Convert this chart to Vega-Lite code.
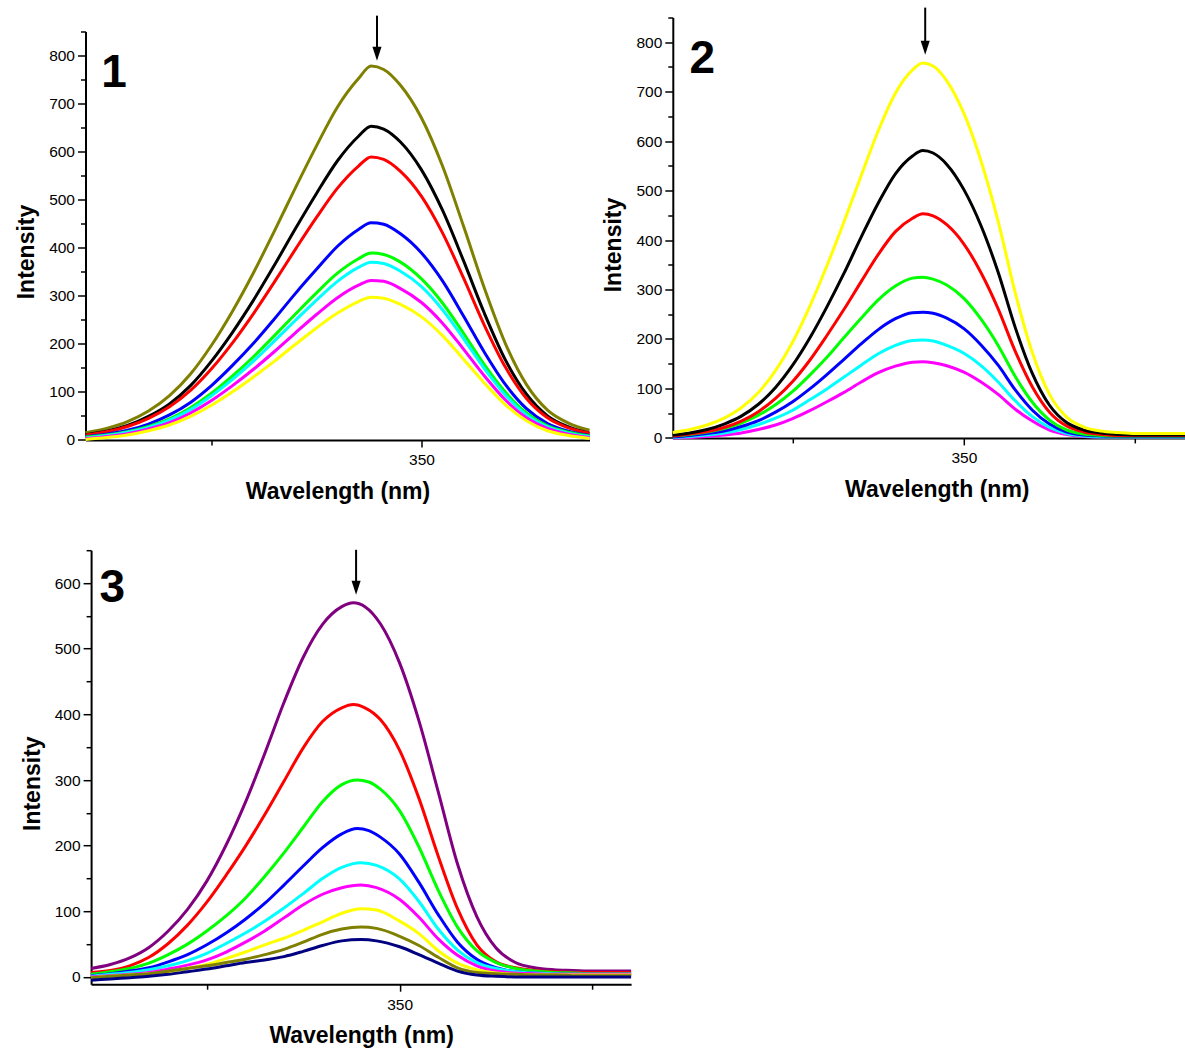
{
  "$schema": "https://vega.github.io/schema/vega-lite/v6.json",
  "usermeta": {"embedOptions": {"actions": false}},
  "background": "white",
  "padding": {"left": 15.5, "top": 6.5, "right": 0, "bottom": 0},
  "config": {
    "view": {"stroke": null},
    "font": "Liberation Sans",
    "axis": {
      "domainColor": "black", "domainWidth": 2, "tickColor": "black", "tickWidth": 1.5,
      "labelColor": "black", "labelFont": "Liberation Sans", "labelFontSize": 15.5,
      "titleColor": "black", "titleFont": "Liberation Sans", "titleFontSize": 23, "titleFontWeight": "bold",
      "grid": false, "labelOverlap": false, "labelFlush": false
    }
  },
  "datasets": {
    "p1": [
      {"c":"olive","x":270,"y":15},{"c":"olive","x":275,"y":24},{"c":"olive","x":280,"y":38},{"c":"olive","x":285,"y":60},{"c":"olive","x":290,"y":92},{"c":"olive","x":295,"y":137},{"c":"olive","x":300,"y":197},{"c":"olive","x":305,"y":268},{"c":"olive","x":310,"y":348},{"c":"olive","x":315,"y":435},{"c":"olive","x":320,"y":525},{"c":"olive","x":325,"y":612},{"c":"olive","x":330,"y":693},{"c":"olive","x":335,"y":752},{"c":"olive","x":338,"y":778},{"c":"olive","x":341,"y":771},{"c":"olive","x":345,"y":738},{"c":"olive","x":350,"y":670},{"c":"olive","x":355,"y":570},{"c":"olive","x":360,"y":445},{"c":"olive","x":365,"y":315},{"c":"olive","x":370,"y":200},{"c":"olive","x":375,"y":115},{"c":"olive","x":380,"y":62},{"c":"olive","x":385,"y":35},{"c":"olive","x":390,"y":20},
      {"c":"black","x":270,"y":11},{"c":"black","x":275,"y":18},{"c":"black","x":280,"y":30},{"c":"black","x":285,"y":49},{"c":"black","x":290,"y":75},{"c":"black","x":295,"y":113},{"c":"black","x":300,"y":164},{"c":"black","x":305,"y":224},{"c":"black","x":310,"y":291},{"c":"black","x":315,"y":364},{"c":"black","x":320,"y":440},{"c":"black","x":325,"y":513},{"c":"black","x":330,"y":581},{"c":"black","x":335,"y":632},{"c":"black","x":338,"y":653},{"c":"black","x":341,"y":647},{"c":"black","x":345,"y":620},{"c":"black","x":350,"y":562},{"c":"black","x":355,"y":478},{"c":"black","x":360,"y":373},{"c":"black","x":365,"y":263},{"c":"black","x":370,"y":166},{"c":"black","x":375,"y":95},{"c":"black","x":380,"y":50},{"c":"black","x":385,"y":27},{"c":"black","x":390,"y":14},
      {"c":"red","x":270,"y":10},{"c":"red","x":275,"y":17},{"c":"red","x":280,"y":28},{"c":"red","x":285,"y":45},{"c":"red","x":290,"y":69},{"c":"red","x":295,"y":103},{"c":"red","x":300,"y":148},{"c":"red","x":305,"y":202},{"c":"red","x":310,"y":263},{"c":"red","x":315,"y":329},{"c":"red","x":320,"y":397},{"c":"red","x":325,"y":463},{"c":"red","x":330,"y":524},{"c":"red","x":335,"y":570},{"c":"red","x":338,"y":589},{"c":"red","x":341,"y":584},{"c":"red","x":345,"y":559},{"c":"red","x":350,"y":507},{"c":"red","x":355,"y":431},{"c":"red","x":360,"y":337},{"c":"red","x":365,"y":238},{"c":"red","x":370,"y":151},{"c":"red","x":375,"y":86},{"c":"red","x":380,"y":46},{"c":"red","x":385,"y":25},{"c":"red","x":390,"y":14},
      {"c":"blue","x":270,"y":7},{"c":"blue","x":275,"y":12},{"c":"blue","x":280,"y":20},{"c":"blue","x":285,"y":33},{"c":"blue","x":290,"y":52},{"c":"blue","x":295,"y":78},{"c":"blue","x":300,"y":113},{"c":"blue","x":305,"y":155},{"c":"blue","x":310,"y":201},{"c":"blue","x":315,"y":252},{"c":"blue","x":320,"y":305},{"c":"blue","x":325,"y":355},{"c":"blue","x":330,"y":403},{"c":"blue","x":335,"y":438},{"c":"blue","x":338,"y":452},{"c":"blue","x":341,"y":449},{"c":"blue","x":345,"y":429},{"c":"blue","x":350,"y":389},{"c":"blue","x":355,"y":331},{"c":"blue","x":360,"y":258},{"c":"blue","x":365,"y":182},{"c":"blue","x":370,"y":115},{"c":"blue","x":375,"y":65},{"c":"blue","x":380,"y":34},{"c":"blue","x":385,"y":18},{"c":"blue","x":390,"y":9},
      {"c":"green","x":270,"y":6},{"c":"green","x":275,"y":10},{"c":"green","x":280,"y":17},{"c":"green","x":285,"y":28},{"c":"green","x":290,"y":44},{"c":"green","x":295,"y":67},{"c":"green","x":300,"y":97},{"c":"green","x":305,"y":133},{"c":"green","x":310,"y":173},{"c":"green","x":315,"y":217},{"c":"green","x":320,"y":262},{"c":"green","x":325,"y":306},{"c":"green","x":330,"y":347},{"c":"green","x":335,"y":377},{"c":"green","x":338,"y":389},{"c":"green","x":341,"y":386},{"c":"green","x":345,"y":370},{"c":"green","x":350,"y":335},{"c":"green","x":355,"y":285},{"c":"green","x":360,"y":222},{"c":"green","x":365,"y":156},{"c":"green","x":370,"y":99},{"c":"green","x":375,"y":56},{"c":"green","x":380,"y":29},{"c":"green","x":385,"y":16},{"c":"green","x":390,"y":8},
      {"c":"cyan","x":270,"y":4},{"c":"cyan","x":275,"y":9},{"c":"cyan","x":280,"y":16},{"c":"cyan","x":285,"y":26},{"c":"cyan","x":290,"y":41},{"c":"cyan","x":295,"y":63},{"c":"cyan","x":300,"y":92},{"c":"cyan","x":305,"y":126},{"c":"cyan","x":310,"y":164},{"c":"cyan","x":315,"y":206},{"c":"cyan","x":320,"y":249},{"c":"cyan","x":325,"y":291},{"c":"cyan","x":330,"y":330},{"c":"cyan","x":335,"y":359},{"c":"cyan","x":338,"y":370},{"c":"cyan","x":341,"y":367},{"c":"cyan","x":345,"y":351},{"c":"cyan","x":350,"y":319},{"c":"cyan","x":355,"y":271},{"c":"cyan","x":360,"y":211},{"c":"cyan","x":365,"y":148},{"c":"cyan","x":370,"y":93},{"c":"cyan","x":375,"y":52},{"c":"cyan","x":380,"y":27},{"c":"cyan","x":385,"y":14},{"c":"cyan","x":390,"y":7},
      {"c":"magenta","x":270,"y":3},{"c":"magenta","x":275,"y":7},{"c":"magenta","x":280,"y":13},{"c":"magenta","x":285,"y":23},{"c":"magenta","x":290,"y":36},{"c":"magenta","x":295,"y":56},{"c":"magenta","x":300,"y":82},{"c":"magenta","x":305,"y":113},{"c":"magenta","x":310,"y":147},{"c":"magenta","x":315,"y":184},{"c":"magenta","x":320,"y":223},{"c":"magenta","x":325,"y":261},{"c":"magenta","x":330,"y":296},{"c":"magenta","x":335,"y":322},{"c":"magenta","x":338,"y":332},{"c":"magenta","x":341,"y":330},{"c":"magenta","x":345,"y":315},{"c":"magenta","x":350,"y":286},{"c":"magenta","x":355,"y":243},{"c":"magenta","x":360,"y":189},{"c":"magenta","x":365,"y":133},{"c":"magenta","x":370,"y":83},{"c":"magenta","x":375,"y":46},{"c":"magenta","x":380,"y":24},{"c":"magenta","x":385,"y":12},{"c":"magenta","x":390,"y":5},
      {"c":"yellow","x":270,"y":1},{"c":"yellow","x":275,"y":5},{"c":"yellow","x":280,"y":10},{"c":"yellow","x":285,"y":19},{"c":"yellow","x":290,"y":31},{"c":"yellow","x":295,"y":49},{"c":"yellow","x":300,"y":72},{"c":"yellow","x":305,"y":100},{"c":"yellow","x":310,"y":131},{"c":"yellow","x":315,"y":164},{"c":"yellow","x":320,"y":199},{"c":"yellow","x":325,"y":233},{"c":"yellow","x":330,"y":264},{"c":"yellow","x":335,"y":288},{"c":"yellow","x":338,"y":297},{"c":"yellow","x":341,"y":295},{"c":"yellow","x":345,"y":282},{"c":"yellow","x":350,"y":256},{"c":"yellow","x":355,"y":217},{"c":"yellow","x":360,"y":168},{"c":"yellow","x":365,"y":118},{"c":"yellow","x":370,"y":73},{"c":"yellow","x":375,"y":40},{"c":"yellow","x":380,"y":19},{"c":"yellow","x":385,"y":9},{"c":"yellow","x":390,"y":3}
    ],
    "p2": [
      {"c":"magenta","x":265,"y":0},{"c":"magenta","x":270,"y":1},{"c":"magenta","x":275,"y":3},{"c":"magenta","x":280,"y":6},{"c":"magenta","x":285,"y":10},{"c":"magenta","x":290,"y":17},{"c":"magenta","x":295,"y":26},{"c":"magenta","x":300,"y":39},{"c":"magenta","x":305,"y":55},{"c":"magenta","x":310,"y":73},{"c":"magenta","x":315,"y":92},{"c":"magenta","x":320,"y":113},{"c":"magenta","x":325,"y":132},{"c":"magenta","x":330,"y":145},{"c":"magenta","x":335,"y":153},{"c":"magenta","x":338,"y":154},{"c":"magenta","x":341,"y":152},{"c":"magenta","x":345,"y":146},{"c":"magenta","x":350,"y":133},{"c":"magenta","x":355,"y":113},{"c":"magenta","x":360,"y":88},{"c":"magenta","x":365,"y":58},{"c":"magenta","x":370,"y":34},{"c":"magenta","x":375,"y":16},{"c":"magenta","x":380,"y":7},{"c":"magenta","x":385,"y":3},{"c":"magenta","x":390,"y":2},{"c":"magenta","x":395,"y":2},{"c":"magenta","x":400,"y":2},{"c":"magenta","x":405,"y":2},{"c":"magenta","x":410,"y":2},{"c":"magenta","x":415,"y":2},
      {"c":"cyan","x":265,"y":1},{"c":"cyan","x":270,"y":3},{"c":"cyan","x":275,"y":6},{"c":"cyan","x":280,"y":10},{"c":"cyan","x":285,"y":17},{"c":"cyan","x":290,"y":27},{"c":"cyan","x":295,"y":40},{"c":"cyan","x":300,"y":56},{"c":"cyan","x":305,"y":77},{"c":"cyan","x":310,"y":99},{"c":"cyan","x":315,"y":123},{"c":"cyan","x":320,"y":147},{"c":"cyan","x":325,"y":170},{"c":"cyan","x":330,"y":187},{"c":"cyan","x":335,"y":197},{"c":"cyan","x":338,"y":198},{"c":"cyan","x":341,"y":196},{"c":"cyan","x":345,"y":187},{"c":"cyan","x":350,"y":171},{"c":"cyan","x":355,"y":146},{"c":"cyan","x":360,"y":113},{"c":"cyan","x":365,"y":75},{"c":"cyan","x":370,"y":43},{"c":"cyan","x":375,"y":21},{"c":"cyan","x":380,"y":9},{"c":"cyan","x":385,"y":4},{"c":"cyan","x":390,"y":2},{"c":"cyan","x":395,"y":2},{"c":"cyan","x":400,"y":2},{"c":"cyan","x":405,"y":2},{"c":"cyan","x":410,"y":2},{"c":"cyan","x":415,"y":2},
      {"c":"blue","x":265,"y":2},{"c":"blue","x":270,"y":5},{"c":"blue","x":275,"y":9},{"c":"blue","x":280,"y":14},{"c":"blue","x":285,"y":23},{"c":"blue","x":290,"y":35},{"c":"blue","x":295,"y":52},{"c":"blue","x":300,"y":73},{"c":"blue","x":305,"y":99},{"c":"blue","x":310,"y":128},{"c":"blue","x":315,"y":159},{"c":"blue","x":320,"y":190},{"c":"blue","x":325,"y":219},{"c":"blue","x":330,"y":241},{"c":"blue","x":335,"y":253},{"c":"blue","x":338,"y":254},{"c":"blue","x":341,"y":252},{"c":"blue","x":345,"y":242},{"c":"blue","x":350,"y":221},{"c":"blue","x":355,"y":188},{"c":"blue","x":360,"y":147},{"c":"blue","x":365,"y":97},{"c":"blue","x":370,"y":56},{"c":"blue","x":375,"y":28},{"c":"blue","x":380,"y":12},{"c":"blue","x":385,"y":6},{"c":"blue","x":390,"y":4},{"c":"blue","x":395,"y":3},{"c":"blue","x":400,"y":3},{"c":"blue","x":405,"y":3},{"c":"blue","x":410,"y":3},{"c":"blue","x":415,"y":3},
      {"c":"green","x":265,"y":4},{"c":"green","x":270,"y":7},{"c":"green","x":275,"y":12},{"c":"green","x":280,"y":19},{"c":"green","x":285,"y":30},{"c":"green","x":290,"y":46},{"c":"green","x":295,"y":67},{"c":"green","x":300,"y":94},{"c":"green","x":305,"y":127},{"c":"green","x":310,"y":163},{"c":"green","x":315,"y":203},{"c":"green","x":320,"y":242},{"c":"green","x":325,"y":279},{"c":"green","x":330,"y":307},{"c":"green","x":335,"y":323},{"c":"green","x":338,"y":325},{"c":"green","x":341,"y":321},{"c":"green","x":345,"y":309},{"c":"green","x":350,"y":282},{"c":"green","x":355,"y":240},{"c":"green","x":360,"y":187},{"c":"green","x":365,"y":124},{"c":"green","x":370,"y":72},{"c":"green","x":375,"y":36},{"c":"green","x":380,"y":16},{"c":"green","x":385,"y":8},{"c":"green","x":390,"y":5},{"c":"green","x":395,"y":4},{"c":"green","x":400,"y":4},{"c":"green","x":405,"y":4},{"c":"green","x":410,"y":4},{"c":"green","x":415,"y":4},
      {"c":"red","x":265,"y":4},{"c":"red","x":270,"y":8},{"c":"red","x":275,"y":13},{"c":"red","x":280,"y":21},{"c":"red","x":285,"y":34},{"c":"red","x":290,"y":53},{"c":"red","x":295,"y":80},{"c":"red","x":300,"y":114},{"c":"red","x":305,"y":157},{"c":"red","x":310,"y":207},{"c":"red","x":315,"y":260},{"c":"red","x":320,"y":316},{"c":"red","x":325,"y":371},{"c":"red","x":330,"y":417},{"c":"red","x":335,"y":444},{"c":"red","x":338,"y":453},{"c":"red","x":341,"y":449},{"c":"red","x":345,"y":431},{"c":"red","x":350,"y":392},{"c":"red","x":355,"y":334},{"c":"red","x":360,"y":261},{"c":"red","x":365,"y":175},{"c":"red","x":370,"y":103},{"c":"red","x":375,"y":52},{"c":"red","x":380,"y":24},{"c":"red","x":385,"y":12},{"c":"red","x":390,"y":7},{"c":"red","x":395,"y":5},{"c":"red","x":400,"y":5},{"c":"red","x":405,"y":5},{"c":"red","x":410,"y":5},{"c":"red","x":415,"y":5},
      {"c":"black","x":265,"y":6},{"c":"black","x":270,"y":10},{"c":"black","x":275,"y":17},{"c":"black","x":280,"y":28},{"c":"black","x":285,"y":44},{"c":"black","x":290,"y":68},{"c":"black","x":295,"y":102},{"c":"black","x":300,"y":147},{"c":"black","x":305,"y":202},{"c":"black","x":310,"y":265},{"c":"black","x":315,"y":333},{"c":"black","x":320,"y":406},{"c":"black","x":325,"y":475},{"c":"black","x":330,"y":534},{"c":"black","x":335,"y":570},{"c":"black","x":338,"y":581},{"c":"black","x":341,"y":576},{"c":"black","x":345,"y":553},{"c":"black","x":350,"y":502},{"c":"black","x":355,"y":429},{"c":"black","x":360,"y":335},{"c":"black","x":365,"y":223},{"c":"black","x":370,"y":130},{"c":"black","x":375,"y":66},{"c":"black","x":380,"y":31},{"c":"black","x":385,"y":16},{"c":"black","x":390,"y":10},{"c":"black","x":395,"y":7},{"c":"black","x":400,"y":6},{"c":"black","x":405,"y":6},{"c":"black","x":410,"y":6},{"c":"black","x":415,"y":6},
      {"c":"yellow","x":265,"y":11},{"c":"yellow","x":270,"y":17},{"c":"yellow","x":275,"y":26},{"c":"yellow","x":280,"y":40},{"c":"yellow","x":285,"y":61},{"c":"yellow","x":290,"y":92},{"c":"yellow","x":295,"y":136},{"c":"yellow","x":300,"y":194},{"c":"yellow","x":305,"y":266},{"c":"yellow","x":310,"y":348},{"c":"yellow","x":315,"y":437},{"c":"yellow","x":320,"y":530},{"c":"yellow","x":325,"y":621},{"c":"yellow","x":330,"y":697},{"c":"yellow","x":335,"y":744},{"c":"yellow","x":338,"y":758},{"c":"yellow","x":341,"y":752},{"c":"yellow","x":345,"y":722},{"c":"yellow","x":350,"y":656},{"c":"yellow","x":355,"y":560},{"c":"yellow","x":360,"y":438},{"c":"yellow","x":365,"y":293},{"c":"yellow","x":370,"y":172},{"c":"yellow","x":375,"y":88},{"c":"yellow","x":380,"y":42},{"c":"yellow","x":385,"y":22},{"c":"yellow","x":390,"y":14},{"c":"yellow","x":395,"y":11},{"c":"yellow","x":400,"y":9},{"c":"yellow","x":405,"y":9},{"c":"yellow","x":410,"y":9},{"c":"yellow","x":415,"y":9}
    ],
    "p3": [
      {"c":"purple","x":270,"y":13},{"c":"purple","x":275,"y":19},{"c":"purple","x":280,"y":29},{"c":"purple","x":285,"y":45},{"c":"purple","x":290,"y":70},{"c":"purple","x":295,"y":103},{"c":"purple","x":300,"y":146},{"c":"purple","x":305,"y":201},{"c":"purple","x":310,"y":266},{"c":"purple","x":315,"y":340},{"c":"purple","x":320,"y":418},{"c":"purple","x":325,"y":487},{"c":"purple","x":330,"y":537},{"c":"purple","x":335,"y":564},{"c":"purple","x":338,"y":570},{"c":"purple","x":341,"y":564},{"c":"purple","x":345,"y":538},{"c":"purple","x":350,"y":478},{"c":"purple","x":355,"y":390},{"c":"purple","x":360,"y":282},{"c":"purple","x":365,"y":172},{"c":"purple","x":370,"y":92},{"c":"purple","x":375,"y":44},{"c":"purple","x":380,"y":22},{"c":"purple","x":385,"y":14},{"c":"purple","x":390,"y":11},{"c":"purple","x":395,"y":10},{"c":"purple","x":400,"y":9},{"c":"purple","x":405,"y":9},{"c":"purple","x":410,"y":9},
      {"c":"red","x":270,"y":7},{"c":"red","x":275,"y":10},{"c":"red","x":280,"y":17},{"c":"red","x":285,"y":30},{"c":"red","x":290,"y":51},{"c":"red","x":295,"y":79},{"c":"red","x":300,"y":114},{"c":"red","x":305,"y":155},{"c":"red","x":310,"y":199},{"c":"red","x":315,"y":247},{"c":"red","x":320,"y":298},{"c":"red","x":325,"y":349},{"c":"red","x":330,"y":389},{"c":"red","x":335,"y":410},{"c":"red","x":338,"y":415},{"c":"red","x":341,"y":410},{"c":"red","x":345,"y":392},{"c":"red","x":350,"y":345},{"c":"red","x":355,"y":272},{"c":"red","x":360,"y":184},{"c":"red","x":365,"y":104},{"c":"red","x":370,"y":49},{"c":"red","x":375,"y":23},{"c":"red","x":380,"y":14},{"c":"red","x":385,"y":10},{"c":"red","x":390,"y":8},{"c":"red","x":395,"y":7},{"c":"red","x":400,"y":7},{"c":"red","x":405,"y":7},{"c":"red","x":410,"y":7},
      {"c":"green","x":270,"y":4},{"c":"green","x":275,"y":8},{"c":"green","x":280,"y":13},{"c":"green","x":285,"y":21},{"c":"green","x":290,"y":34},{"c":"green","x":295,"y":50},{"c":"green","x":300,"y":70},{"c":"green","x":305,"y":93},{"c":"green","x":310,"y":120},{"c":"green","x":315,"y":153},{"c":"green","x":320,"y":189},{"c":"green","x":325,"y":228},{"c":"green","x":330,"y":267},{"c":"green","x":335,"y":293},{"c":"green","x":339,"y":300},{"c":"green","x":342,"y":297},{"c":"green","x":345,"y":286},{"c":"green","x":350,"y":253},{"c":"green","x":355,"y":198},{"c":"green","x":360,"y":132},{"c":"green","x":365,"y":76},{"c":"green","x":370,"y":40},{"c":"green","x":375,"y":22},{"c":"green","x":380,"y":13},{"c":"green","x":385,"y":9},{"c":"green","x":390,"y":7},{"c":"green","x":395,"y":6},{"c":"green","x":400,"y":5},{"c":"green","x":405,"y":5},{"c":"green","x":410,"y":5},
      {"c":"blue","x":270,"y":2},{"c":"blue","x":275,"y":5},{"c":"blue","x":280,"y":9},{"c":"blue","x":285,"y":14},{"c":"blue","x":290,"y":23},{"c":"blue","x":295,"y":34},{"c":"blue","x":300,"y":49},{"c":"blue","x":305,"y":67},{"c":"blue","x":310,"y":88},{"c":"blue","x":315,"y":112},{"c":"blue","x":320,"y":140},{"c":"blue","x":325,"y":169},{"c":"blue","x":330,"y":197},{"c":"blue","x":335,"y":218},{"c":"blue","x":339,"y":226},{"c":"blue","x":342,"y":223},{"c":"blue","x":345,"y":213},{"c":"blue","x":350,"y":187},{"c":"blue","x":355,"y":144},{"c":"blue","x":360,"y":95},{"c":"blue","x":365,"y":53},{"c":"blue","x":370,"y":27},{"c":"blue","x":375,"y":14},{"c":"blue","x":380,"y":8},{"c":"blue","x":385,"y":6},{"c":"blue","x":390,"y":5},{"c":"blue","x":395,"y":4},{"c":"blue","x":400,"y":4},{"c":"blue","x":405,"y":4},{"c":"blue","x":410,"y":4},
      {"c":"cyan","x":270,"y":1},{"c":"cyan","x":275,"y":4},{"c":"cyan","x":280,"y":7},{"c":"cyan","x":285,"y":11},{"c":"cyan","x":290,"y":17},{"c":"cyan","x":295,"y":25},{"c":"cyan","x":300,"y":36},{"c":"cyan","x":305,"y":51},{"c":"cyan","x":310,"y":67},{"c":"cyan","x":315,"y":85},{"c":"cyan","x":320,"y":105},{"c":"cyan","x":325,"y":127},{"c":"cyan","x":330,"y":150},{"c":"cyan","x":335,"y":167},{"c":"cyan","x":340,"y":174},{"c":"cyan","x":344,"y":170},{"c":"cyan","x":350,"y":149},{"c":"cyan","x":355,"y":115},{"c":"cyan","x":360,"y":73},{"c":"cyan","x":365,"y":41},{"c":"cyan","x":370,"y":22},{"c":"cyan","x":375,"y":13},{"c":"cyan","x":380,"y":8},{"c":"cyan","x":385,"y":6},{"c":"cyan","x":390,"y":5},{"c":"cyan","x":395,"y":4},{"c":"cyan","x":400,"y":4},{"c":"cyan","x":405,"y":4},{"c":"cyan","x":410,"y":4},
      {"c":"magenta","x":270,"y":0},{"c":"magenta","x":275,"y":2},{"c":"magenta","x":280,"y":4},{"c":"magenta","x":285,"y":7},{"c":"magenta","x":290,"y":12},{"c":"magenta","x":295,"y":18},{"c":"magenta","x":300,"y":26},{"c":"magenta","x":305,"y":38},{"c":"magenta","x":310,"y":53},{"c":"magenta","x":315,"y":70},{"c":"magenta","x":320,"y":90},{"c":"magenta","x":325,"y":110},{"c":"magenta","x":330,"y":126},{"c":"magenta","x":335,"y":136},{"c":"magenta","x":340,"y":140},{"c":"magenta","x":344,"y":136},{"c":"magenta","x":350,"y":118},{"c":"magenta","x":355,"y":91},{"c":"magenta","x":360,"y":58},{"c":"magenta","x":365,"y":33},{"c":"magenta","x":370,"y":17},{"c":"magenta","x":375,"y":9},{"c":"magenta","x":380,"y":6},{"c":"magenta","x":385,"y":5},{"c":"magenta","x":390,"y":4},{"c":"magenta","x":395,"y":4},{"c":"magenta","x":400,"y":4},{"c":"magenta","x":405,"y":4},{"c":"magenta","x":410,"y":4},
      {"c":"yellow","x":270,"y":-1},{"c":"yellow","x":275,"y":1},{"c":"yellow","x":280,"y":3},{"c":"yellow","x":285,"y":5},{"c":"yellow","x":290,"y":8},{"c":"yellow","x":295,"y":13},{"c":"yellow","x":300,"y":19},{"c":"yellow","x":305,"y":28},{"c":"yellow","x":310,"y":38},{"c":"yellow","x":315,"y":49},{"c":"yellow","x":320,"y":59},{"c":"yellow","x":325,"y":71},{"c":"yellow","x":330,"y":84},{"c":"yellow","x":335,"y":97},{"c":"yellow","x":340,"y":104},{"c":"yellow","x":344,"y":102},{"c":"yellow","x":350,"y":85},{"c":"yellow","x":355,"y":66},{"c":"yellow","x":360,"y":40},{"c":"yellow","x":365,"y":21},{"c":"yellow","x":370,"y":11},{"c":"yellow","x":375,"y":6},{"c":"yellow","x":380,"y":4},{"c":"yellow","x":385,"y":3},{"c":"yellow","x":390,"y":3},{"c":"yellow","x":395,"y":3},{"c":"yellow","x":400,"y":3},{"c":"yellow","x":405,"y":3},{"c":"yellow","x":410,"y":3},
      {"c":"olive","x":270,"y":-1},{"c":"olive","x":275,"y":1},{"c":"olive","x":280,"y":3},{"c":"olive","x":285,"y":5},{"c":"olive","x":290,"y":9},{"c":"olive","x":295,"y":13},{"c":"olive","x":300,"y":17},{"c":"olive","x":305,"y":22},{"c":"olive","x":310,"y":27},{"c":"olive","x":315,"y":34},{"c":"olive","x":320,"y":42},{"c":"olive","x":325,"y":53},{"c":"olive","x":330,"y":65},{"c":"olive","x":335,"y":73},{"c":"olive","x":340,"y":76},{"c":"olive","x":344,"y":74},{"c":"olive","x":350,"y":62},{"c":"olive","x":355,"y":48},{"c":"olive","x":360,"y":30},{"c":"olive","x":365,"y":14},{"c":"olive","x":370,"y":7},{"c":"olive","x":375,"y":5},{"c":"olive","x":380,"y":4},{"c":"olive","x":385,"y":3},{"c":"olive","x":390,"y":3},{"c":"olive","x":395,"y":2},{"c":"olive","x":400,"y":2},{"c":"olive","x":405,"y":2},{"c":"olive","x":410,"y":2},
      {"c":"navy","x":270,"y":-5},{"c":"navy","x":275,"y":-3},{"c":"navy","x":280,"y":-1},{"c":"navy","x":285,"y":1},{"c":"navy","x":290,"y":4},{"c":"navy","x":295,"y":8},{"c":"navy","x":300,"y":12},{"c":"navy","x":305,"y":17},{"c":"navy","x":310,"y":22},{"c":"navy","x":315,"y":26},{"c":"navy","x":320,"y":31},{"c":"navy","x":325,"y":39},{"c":"navy","x":330,"y":48},{"c":"navy","x":335,"y":55},{"c":"navy","x":340,"y":57},{"c":"navy","x":344,"y":55},{"c":"navy","x":350,"y":46},{"c":"navy","x":355,"y":34},{"c":"navy","x":360,"y":21},{"c":"navy","x":365,"y":9},{"c":"navy","x":370,"y":3},{"c":"navy","x":375,"y":1},{"c":"navy","x":380,"y":0},{"c":"navy","x":385,"y":0},{"c":"navy","x":390,"y":0},{"c":"navy","x":395,"y":0},{"c":"navy","x":400,"y":0},{"c":"navy","x":405,"y":0},{"c":"navy","x":410,"y":0}
    ],
    "ann": [
      {"p":1,"k":"rule","x":339.4,"y":883,"y2":803.5},
      {"p":1,"k":"head","x":339.4,"y":803.5},
      {"p":1,"k":"lab","x":276.8,"y":735,"t":"1"},
      {"p":2,"k":"rule","x":338.7,"y":870,"y2":789},
      {"p":2,"k":"head","x":338.7,"y":789},
      {"p":2,"k":"lab","x":273.6,"y":737,"t":"2"},
      {"p":3,"k":"rule","x":338.7,"y":650.6,"y2":592.7},
      {"p":3,"k":"head","x":338.7,"y":592.7},
      {"p":3,"k":"lab","x":275.5,"y":571,"t":"3"}
    ]
  },
  "hconcat": [
    {
      "vconcat": [
        {
          "vconcat": [
            {"width": 1, "height": 1, "data": {"values": [{}]}, "mark": {"type": "text"}, "encoding": {"text": {"value": ""}}},
            {
              "width": 504, "height": 408.4,
              "encoding": {
                "x": {"field": "x", "type": "quantitative", "scale": {"domain": [270, 390], "nice": false, "zero": false},
                  "axis": {"title": "Wavelength (nm)", "values": [300, 350], "labelExpr": "datum.value === 350 ? datum.label : ''",
                    "tickSize": {"condition": {"test": "datum.value === 350", "value": 7}, "value": 5}, "labelPadding": 6, "titlePadding": 12}},
                "y": {"field": "y", "type": "quantitative", "scale": {"domain": [0, 850], "nice": false, "zero": false},
                  "axis": {"title": "Intensity", "values": [0,50,100,150,200,250,300,350,400,450,500,550,600,650,700,750,800,850],
                    "labelExpr": "datum.value % 100 === 0 ? datum.label : ''",
                    "tickSize": {"condition": {"test": "datum.value % 100 === 0", "value": 8}, "value": 5},
                    "labelPadding": 3, "titlePadding": 10, "titleY": 220}}
              },
              "layer": [
                {"data": {"name": "p1"}, "mark": {"type": "line", "strokeWidth": 3, "interpolate": "monotone"},
                  "encoding": {"color": {"field": "c", "type": "nominal", "legend": null,
                    "scale": {"domain": ["olive","black","red","blue","green","cyan","magenta","yellow","purple","navy"],
                      "range": ["#808000","#000000","#ff0000","#0000ff","#00ff00","#00ffff","#ff00ff","#ffff00","#800080","#000080"]}}}},
                {"data": {"name": "ann"}, "transform": [{"filter": "datum.p === 1 && datum.k === 'rule'"}],
                  "mark": {"type": "rule", "color": "black", "strokeWidth": 2}, "encoding": {"y2": {"field": "y2"}}},
                {"data": {"name": "ann"}, "transform": [{"filter": "datum.p === 1 && datum.k === 'head'"}],
                  "mark": {"type": "point", "shape": "M-0.65,-1L0.65,-1L0,1Z", "size": 196, "filled": true, "color": "black", "opacity": 1, "strokeWidth": 0}},
                {"data": {"name": "ann"}, "transform": [{"filter": "datum.p === 1 && datum.k === 'lab'"}],
                  "mark": {"type": "text", "fontSize": 46, "fontWeight": "bold", "font": "Liberation Sans", "align": "center", "baseline": "alphabetic", "color": "black"},
                  "encoding": {"text": {"field": "t"}}}
              ]
            }
          ],
          "spacing": 13, "bounds": "flush"
        },
        {
          "hconcat": [
            {"width": 1, "height": 1, "data": {"values": [{}]}, "mark": {"type": "text"}, "encoding": {"text": {"value": ""}}},
            {
              "width": 540, "height": 434,
              "encoding": {
                "x": {"field": "x", "type": "quantitative", "scale": {"domain": [270, 410], "nice": false, "zero": false},
                  "axis": {"title": "Wavelength (nm)", "values": [300, 350, 400], "labelExpr": "datum.value === 350 ? datum.label : ''",
                    "tickSize": {"condition": {"test": "datum.value === 350", "value": 7}, "value": 5}, "labelPadding": 6, "titlePadding": 12}},
                "y": {"field": "y", "type": "quantitative", "scale": {"domain": [-11, 650], "nice": false, "zero": false},
                  "axis": {"title": "Intensity", "values": [0,50,100,150,200,250,300,350,400,450,500,550,600,650],
                    "labelExpr": "datum.value % 100 === 0 ? datum.label : ''",
                    "tickSize": {"condition": {"test": "datum.value % 100 === 0", "value": 8}, "value": 5},
                    "labelPadding": 3, "titlePadding": 10, "titleY": 233}}
              },
              "layer": [
                {"data": {"name": "p3"}, "mark": {"type": "line", "strokeWidth": 3, "interpolate": "monotone"},
                  "encoding": {"color": {"field": "c", "type": "nominal", "legend": null,
                    "scale": {"domain": ["olive","black","red","blue","green","cyan","magenta","yellow","purple","navy"],
                      "range": ["#808000","#000000","#ff0000","#0000ff","#00ff00","#00ffff","#ff00ff","#ffff00","#800080","#000080"]}}}},
                {"data": {"name": "ann"}, "transform": [{"filter": "datum.p === 3 && datum.k === 'rule'"}],
                  "mark": {"type": "rule", "color": "black", "strokeWidth": 2}, "encoding": {"y2": {"field": "y2"}}},
                {"data": {"name": "ann"}, "transform": [{"filter": "datum.p === 3 && datum.k === 'head'"}],
                  "mark": {"type": "point", "shape": "M-0.65,-1L0.65,-1L0,1Z", "size": 196, "filled": true, "color": "black", "opacity": 1, "strokeWidth": 0}},
                {"data": {"name": "ann"}, "transform": [{"filter": "datum.p === 3 && datum.k === 'lab'"}],
                  "mark": {"type": "text", "fontSize": 46, "fontWeight": "bold", "font": "Liberation Sans", "align": "center", "baseline": "alphabetic", "color": "black"},
                  "encoding": {"text": {"field": "t"}}}
              ]
            }
          ],
          "spacing": 4.6, "bounds": "flush"
        }
      ],
      "spacing": 532.7, "bounds": "flush"
    },
    {
      "width": 512, "height": 420.4,
      "encoding": {
        "x": {"field": "x", "type": "quantitative", "scale": {"domain": [265, 414.5], "nice": false, "zero": false},
          "axis": {"title": "Wavelength (nm)", "values": [300, 350, 400], "labelExpr": "datum.value === 350 ? datum.label : ''",
            "tickSize": {"condition": {"test": "datum.value === 350", "value": 7}, "value": 5}, "labelPadding": 6, "titlePadding": 12, "titleX": 264}},
        "y": {"field": "y", "type": "quantitative", "scale": {"domain": [0, 850], "nice": false, "zero": false},
          "axis": {"title": "Intensity", "values": [0,50,100,150,200,250,300,350,400,450,500,550,600,650,700,750,800,850],
            "labelExpr": "datum.value % 100 === 0 ? datum.label : ''",
            "tickSize": {"condition": {"test": "datum.value % 100 === 0", "value": 8}, "value": 5},
            "labelPadding": 3, "titlePadding": 10, "titleY": 227}}
      },
      "layer": [
        {"data": {"name": "p2"}, "mark": {"type": "line", "strokeWidth": 3, "interpolate": "monotone"},
          "encoding": {"color": {"field": "c", "type": "nominal", "legend": null,
            "scale": {"domain": ["olive","black","red","blue","green","cyan","magenta","yellow","purple","navy"],
              "range": ["#808000","#000000","#ff0000","#0000ff","#00ff00","#00ffff","#ff00ff","#ffff00","#800080","#000080"]}}}},
        {"data": {"name": "ann"}, "transform": [{"filter": "datum.p === 2 && datum.k === 'rule'"}],
          "mark": {"type": "rule", "color": "black", "strokeWidth": 2}, "encoding": {"y2": {"field": "y2"}}},
        {"data": {"name": "ann"}, "transform": [{"filter": "datum.p === 2 && datum.k === 'head'"}],
          "mark": {"type": "point", "shape": "M-0.65,-1L0.65,-1L0,1Z", "size": 196, "filled": true, "color": "black", "opacity": 1, "strokeWidth": 0}},
        {"data": {"name": "ann"}, "transform": [{"filter": "datum.p === 2 && datum.k === 'lab'"}],
          "mark": {"type": "text", "fontSize": 46, "fontWeight": "bold", "font": "Liberation Sans", "align": "center", "baseline": "alphabetic", "color": "black"},
          "encoding": {"text": {"field": "t"}}}
      ]
    }
  ],
  "spacing": 587.3,
  "bounds": "flush"
}
